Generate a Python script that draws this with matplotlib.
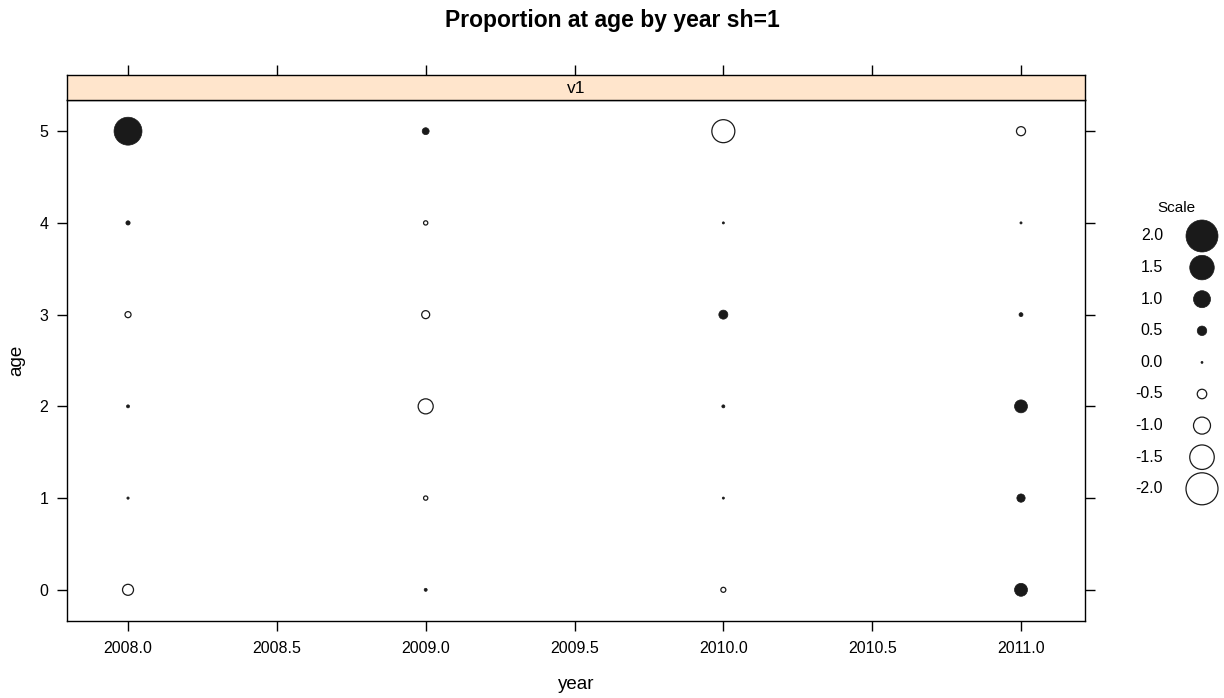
import numpy as np
import matplotlib
matplotlib.use('Agg')
import matplotlib.pyplot as plt

plt.rcParams['font.family'] = ['Liberation Sans', 'DejaVu Sans']

# values (positive = filled, negative = open)
years = [2008, 2009, 2010, 2011]
ages = [0, 1, 2, 3, 4, 5]
vals = {
    2008: [-0.60, 0.02, 0.07, -0.27, 0.15, 1.73],
    2009: [0.07, -0.15, -0.87, -0.40, -0.15, 0.33],
    2010: [-0.20, 0.01, 0.07, 0.47, 0.01, -1.40],
    2011: [0.73, 0.42, 0.73, 0.13, 0.01, -0.47],
}
scale_vals = [2.0, 1.5, 1.0, 0.5, 0.0, -0.5, -1.0, -1.5, -2.0]

dark = '#1a1a1a'


def marker_size(v):
    # diameter in px -> points^2 for scatter (dpi 100)
    d_px = 2 + 15 * np.abs(np.asarray(v))
    d_pt = d_px * 72 / 100
    return d_pt ** 2


def draw_bubbles(ax, x, y, v):
    x = np.asarray(x); y = np.asarray(y); v = np.asarray(v)
    pos = v >= 0
    ax.scatter(x[pos], y[pos], s=marker_size(v[pos]), c=dark, edgecolors=dark,
               linewidths=0.5, zorder=3)
    ax.scatter(x[~pos], y[~pos], s=marker_size(v[~pos]), facecolors='white',
               edgecolors=dark, linewidths=0.9, zorder=3)


fig = plt.figure(figsize=(12.24, 6.98), dpi=100)
ax = fig.add_axes([67 / 1224, 1 - 621 / 698, (1085 - 67) / 1224, (621 - 100) / 698])

xs, ys, vs = [], [], []
for yr in years:
    for a, v in zip(ages, vals[yr]):
        xs.append(yr); ys.append(a); vs.append(v)
draw_bubbles(ax, xs, ys, vs)

ax.set_xlim(2007.795, 2011.215)
ax.set_ylim(-0.34, 5.34)
xt = [2008.0, 2008.5, 2009.0, 2009.5, 2010.0, 2010.5, 2011.0]
ax.set_xticks(xt)
ax.set_xticklabels([f'{t:.1f}' for t in xt])
ax.set_yticks(ages)
ax.tick_params(axis='both', direction='out', length=7.5, width=1, labelsize=11.5,
               colors='black', pad=6)
ax.tick_params(axis='x', pad=7)
ax.tick_params(axis='y', right=True, labelright=False)
ax.tick_params(axis='x', top=False)
for sp in ax.spines.values():
    sp.set_linewidth(1)
ax.set_xlabel('year', fontsize=13.5, labelpad=14)
ax.set_ylabel('age', fontsize=13.5, labelpad=10)

# strip above panel
strip = fig.add_axes([67 / 1224, 1 - 100 / 698, (1085 - 67) / 1224, 25 / 698])
strip.set_facecolor('#ffe5cc')
strip.set_xlim(ax.get_xlim())
strip.set_ylim(0, 1)
strip.set_yticks([])
strip.set_xticks(xt)
strip.tick_params(axis='x', direction='out', length=7.5, width=1, top=True,
                  bottom=False, labelbottom=False, labeltop=False)
for sp in strip.spines.values():
    sp.set_linewidth(1)
strip.text(0.5, 0.45, 'v1', transform=strip.transAxes, ha='center', va='center',
           fontsize=12.5)

fig.text(0.5, 1 - 21 / 698, 'Proportion at age by year sh=1', ha='center',
         va='center', fontsize=16.5, fontweight='bold')

# legend
lg = fig.add_axes([1100 / 1224, 1 - 510 / 698, 124 / 1224, 320 / 698])
lg.set_xlim(0, 124)
lg.set_ylim(510, 190)
lg.axis('off')
row_y = 236 + np.arange(len(scale_vals)) * 31.6
draw_bubbles(lg, np.full(len(scale_vals), 102), row_y, scale_vals)
for yy, sv in zip(row_y, scale_vals):
    lg.text(63, yy, f'{sv:.1f}', ha='right', va='center', fontsize=11.5)
lg.text(76, 208, 'Scale', ha='center', va='center', fontsize=11)

fig.savefig('out.png', dpi=100)
